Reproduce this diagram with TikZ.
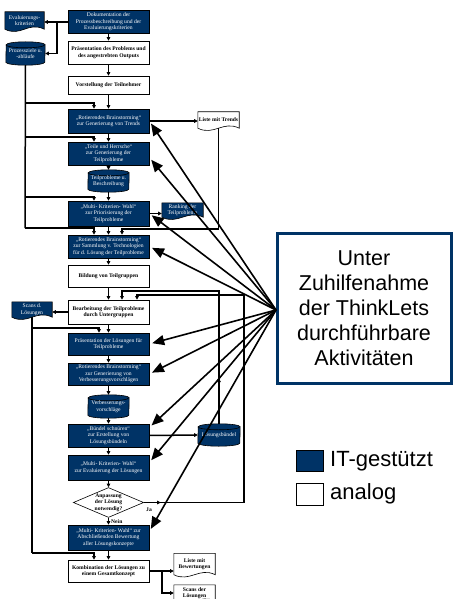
\documentclass[tikz,border=0pt]{standalone}
\usepackage{fontspec}
\setmainfont{Liberation Serif}
\newfontfamily\arialf{Liberation Sans}
\usetikzlibrary{shapes.geometric,arrows.meta,calc,backgrounds,decorations.markings}
\definecolor{navy}{RGB}{0,51,102}
\newcommand\docshape[2]{%
  \draw[line width=0.6pt, fill=#2] (#1.north west) -- (#1.north east) -- (#1.south east)
    .. controls +(-16,-8) and +(16,8) .. (#1.south west) -- cycle;}
\newcommand\cylshape[2]{%
  \draw[line width=0.6pt, fill=navy] ($(#1.south west)+(0,-3)$)
    arc[start angle=180,end angle=360,x radius=#2pt,y radius=3pt]
    -- ($(#1.north east)+(0,3)$)
    arc[start angle=0,end angle=180,x radius=#2pt,y radius=3pt] -- cycle;
  \draw[line width=0.6pt] ($(#1.north west)+(0,3)$)
    arc[start angle=180,end angle=360,x radius=#2pt,y radius=3pt];}
\begin{document}
\begin{tikzpicture}[x=1pt,y=-1pt,
  every node/.style={inner sep=0pt, align=center},
  ft/.style={font=\fontsize{5.6}{6.6}\selectfont},
  ftb/.style={font=\fontsize{5.6}{6.6}\selectfont\bfseries},
  box/.style={rectangle, draw=black, line width=0.6pt, minimum width=81pt},
  bbox/.style={box, fill=navy, text=white, ft},
  wbox/.style={box, fill=white, ftb},
  shapenode/.style={rectangle},
  conn/.style={line width=1.5pt, -{Triangle[length=3.6pt,width=3.6pt]}},
  plain/.style={line width=1.5pt},
  fan/.style={line width=1.6pt, -{Triangle[length=12pt,width=10pt]}, shorten >=3pt},
  midmark/.style={postaction={decorate}, decoration={markings,
     mark=at position #1 with {\arrow{Triangle[length=3.6pt,width=3.6pt]}}}},
  legsq/.style={rectangle, draw=black, line width=1pt, minimum width=27pt, minimum height=21pt},
  legtxt/.style={anchor=west, font=\arialf\fontsize{22}{24}\selectfont},
]
\useasboundingbox (0,0) rectangle (455,599);

% ---------- main column ----------
\node[bbox, minimum height=23pt] (dok) at (108.5,22) {Dokumentation der\\Prozessbeschreibung und der\\Evaluierungskriterien};
\node[wbox, minimum height=23pt] (praes1) at (108.5,52.5) {Präsentation des Problems und\\des angestrebten Outputs};
\node[wbox, minimum height=18pt] (vorst) at (108.5,85) {Vorstellung der Teilnehmer};
\node[bbox, minimum height=24pt] (rot1) at (108.5,121) {„Rotierendes Brainstorming“\\zur Generierung von Trends};
\node[bbox, minimum height=23pt] (teile) at (108.5,153.5) {„Teile und Herrsche“\\zur Generierung der\\Teilprobleme};
\node[shapenode, ft, text=white, minimum width=41pt, minimum height=22pt] (cyl1) at (108.5,181) {Teilprobleme u.\\Beschreibung};
\node[bbox, minimum height=25pt] (multi1) at (108.5,213.5) {„Multi- Kriterien- Wahl“\\zur Priorisierung der\\Teilprobleme};
\node[bbox, minimum height=23pt] (rot2) at (108.5,246.5) {„Rotierendes Brainstorming“\\zur Sammlung v. Technologien\\für d. Lösung der Teilprobleme};
\node[wbox, minimum height=22pt] (bildung) at (108.5,276) {Bildung von Teilgruppen};
\node[wbox, minimum height=24pt] (bearb) at (108.5,312) {Bearbeitung der Teilprobleme\\durch Untergruppen};
\node[bbox, minimum height=22pt] (praesL) at (108.5,344) {Präsentation der Lösungen für\\Teilprobleme};
\node[bbox, minimum height=22pt] (rot3) at (108.5,374) {„Rotierendes Brainstorming“\\zur Generierung von\\Verbesserungsvorschlägen};
\node[shapenode, ft, text=white, minimum width=41pt, minimum height=23pt] (cyl2) at (108.5,406.5) {Verbesserungs-\\vorschläge};
\node[bbox, minimum height=23pt] (buendel) at (108.5,435.5) {„Bündel schnüren“\\zur Erstellung von\\Lösungsbündeln};
\node[bbox, minimum height=25pt] (multi2) at (108.5,467.5) {„Multi- Kriterien- Wahl“\\zur Evaluierung der Lösungen};
\node[diamond, aspect=2.35, draw=black, line width=0.6pt, fill=white, ftb] (dia) at (108.5,502.5) {Anpassung\\der Lösung\\notwendig?};
\node[bbox, minimum height=25pt] (multi3) at (108.5,537.5) {„Multi- Kriterien- Wahl“ zur\\Abschließenden Bewertung\\aller Lösungskonzepte};
\node[wbox, minimum height=22pt] (komb) at (108.5,571) {Kombination der Lösungen zu\\einem Gesamtkonzept};

% ---------- side shapes ----------
\node[shapenode, ft, text=white, minimum width=39pt, minimum height=17pt] (eval) at (24.5,20.5) {Evaluierungs-\\kriterien};
\node[shapenode, ft, text=white, minimum width=39pt, minimum height=23pt] (proz) at (25.5,53.5) {Prozessziele u.\\-abläufe};
\node[shapenode, ftb, minimum width=41pt, minimum height=16pt] (trends) at (218.5,120) {Liste mit Trends};
\node[shapenode, ft, text=white, minimum width=41pt, minimum height=14pt] (ranking) at (182.5,210) {Ranking der\\Teilprobleme};
\node[shapenode, ft, text=white, minimum width=40pt, minimum height=15pt] (scans1) at (32,309.5) {Scans d.\\Lösungen};
\node[shapenode, ft, text=white, minimum width=42pt, minimum height=22pt] (loesb) at (219,435) {Lösungsbündel};
\node[shapenode, ftb, minimum width=41pt, minimum height=21pt] (listebew) at (194.5,564) {Liste mit\\Bewertungen};
\node[shapenode, ftb, minimum width=41pt, minimum height=16pt] (scans2) at (194.5,593) {Scans der\\Lösungen};

\begin{scope}[on background layer]
  \docshape{eval}{navy}
  \docshape{trends}{white}
  \docshape{ranking}{navy}
  \docshape{scans1}{navy}
  \docshape{listebew}{white}
  \docshape{scans2}{white}
  \cylshape{proz}{19.5}
  \cylshape{cyl1}{20.5}
  \cylshape{cyl2}{20.5}
  \cylshape{loesb}{21}
\end{scope}

\node[ftb, anchor=west] (nein) at (111,522) {Nein};
\node[ftb, anchor=west] (ja) at (146,510) {Ja};

% ---------- main flow ----------
\draw[conn] (dok) -- (praes1);
\draw[conn] (praes1) -- (vorst);
\draw[conn] (vorst) -- (rot1);
\draw[conn] (rot1) -- (teile);
\draw[conn] (teile) -- (cyl1);
\draw[conn] (cyl1) -- (multi1);
\draw[conn] (multi1) -- (rot2);
\draw[conn] (rot2) -- (bildung);
\draw[conn] (bildung) -- (bearb);
\draw[conn] (bearb) -- (praesL);
\draw[conn] (praesL) -- (rot3);
\draw[conn] (rot3) -- (cyl2);
\draw[conn] (cyl2) -- (buendel);
\draw[conn] (buendel) -- (multi2);
\draw[conn] (multi2) -- (dia);
\draw[conn] (dia) -- (multi3);
\draw[conn] (multi3) -- (komb);

% ---------- top left ----------
\coordinate (j1) at (57,22);
\draw[conn] (dok.west) -- (dok.west -| eval.east);
\draw[conn] (j1) |- (proz.east);

\coordinate (b1) at (25,103);
\coordinate (b2) at (25,137);
\coordinate (b3) at (25,197);
\coordinate (b4) at (25,228);
\draw[plain] (proz.south) -- (b4);
\draw[conn] (b1) -| ([xshift=-14.5pt]rot1.north);
\draw[conn] (b2) -| ([xshift=-14.5pt]teile.north);
\draw[conn] (b3) -| ([xshift=-14.5pt]multi1.north);
\draw[conn] (b4) -| ([xshift=-14.5pt]rot2.north);

% ---------- side outputs ----------
\draw[conn] (rot1.east) -- (rot1.east -| trends.west);
\coordinate (tc) at (122,229);
\draw[conn] (trends.south) |- (tc) -- (tc |- rot2.north);
\draw[conn] (multi1.east) -- (multi1.east -| ranking.west);

\draw[conn] (bearb.west) -- (bearb.west -| scans1.east);
\coordinate (s1) at (32,328);
\coordinate (s2) at (32,553);
\draw[plain] (scans1.south) -- (s2);
\draw[conn] (s1) -| ([xshift=-9.5pt]praesL.north);
\draw[conn] (s2) -| ([xshift=-14.5pt]komb.north);

\draw[conn] (buendel.east) -- (loesb.west);
\coordinate (lc) at (219,291);
\coordinate (lc2) at (122,291);
\draw[conn, midmark=0.19] (loesb.north) -- (lc) -- (lc2) -- (lc2 |- bearb.north);

\coordinate (ja1) at (244,502.5);
\coordinate (ja2) at (244,295);
\coordinate (ja3) at (137,295);
\draw[conn, midmark=0.04] (dia.east) -- (ja1) -- (ja2) -- (ja3) -- (ja3 |- bearb.north);

\coordinate (k1) at (162,571);
\draw[conn] (komb.east) -- (komb.east -| listebew.west);
\draw[conn] (k1) |- (scans2.west);

% ---------- ThinkLets box and fan ----------
\node[rectangle, draw=navy, line width=3pt, fill=white, minimum width=174pt, minimum height=150pt,
      font=\arialf\fontsize{21.5}{25}\selectfont] (tl) at (364,308)
      {Unter\\Zuhilfenahme\\ der ThinkLets\\durchführbare\\Aktivitäten};
\coordinate (F) at (276,310);
\draw[fan] (F) -- (rot1.east);
\draw[fan] (F) -- ([yshift=-4pt]teile.east);
\draw[fan] (F) -- (multi1.east);
\draw[fan] (F) -- (rot2.east);
\draw[fan] (F) -- (praesL.east);
\draw[fan] (F) -- (rot3.east);
\draw[fan] (F) -- ([yshift=8pt]buendel.east);
\draw[fan] (F) -- ([yshift=5pt]multi2.east);
\draw[fan] (F) -- ([yshift=6pt]multi3.east);

% ---------- legend ----------
\node[legsq, fill=navy] (lit) at (309.5,460.5) {};
\node[legtxt] (litx) at (330,461) {IT-gestützt};
\node[legsq, fill=white, minimum height=22pt] (lan) at (309.5,494) {};
\node[legtxt] (lanx) at (330,494) {analog};
\end{tikzpicture}
\end{document}
